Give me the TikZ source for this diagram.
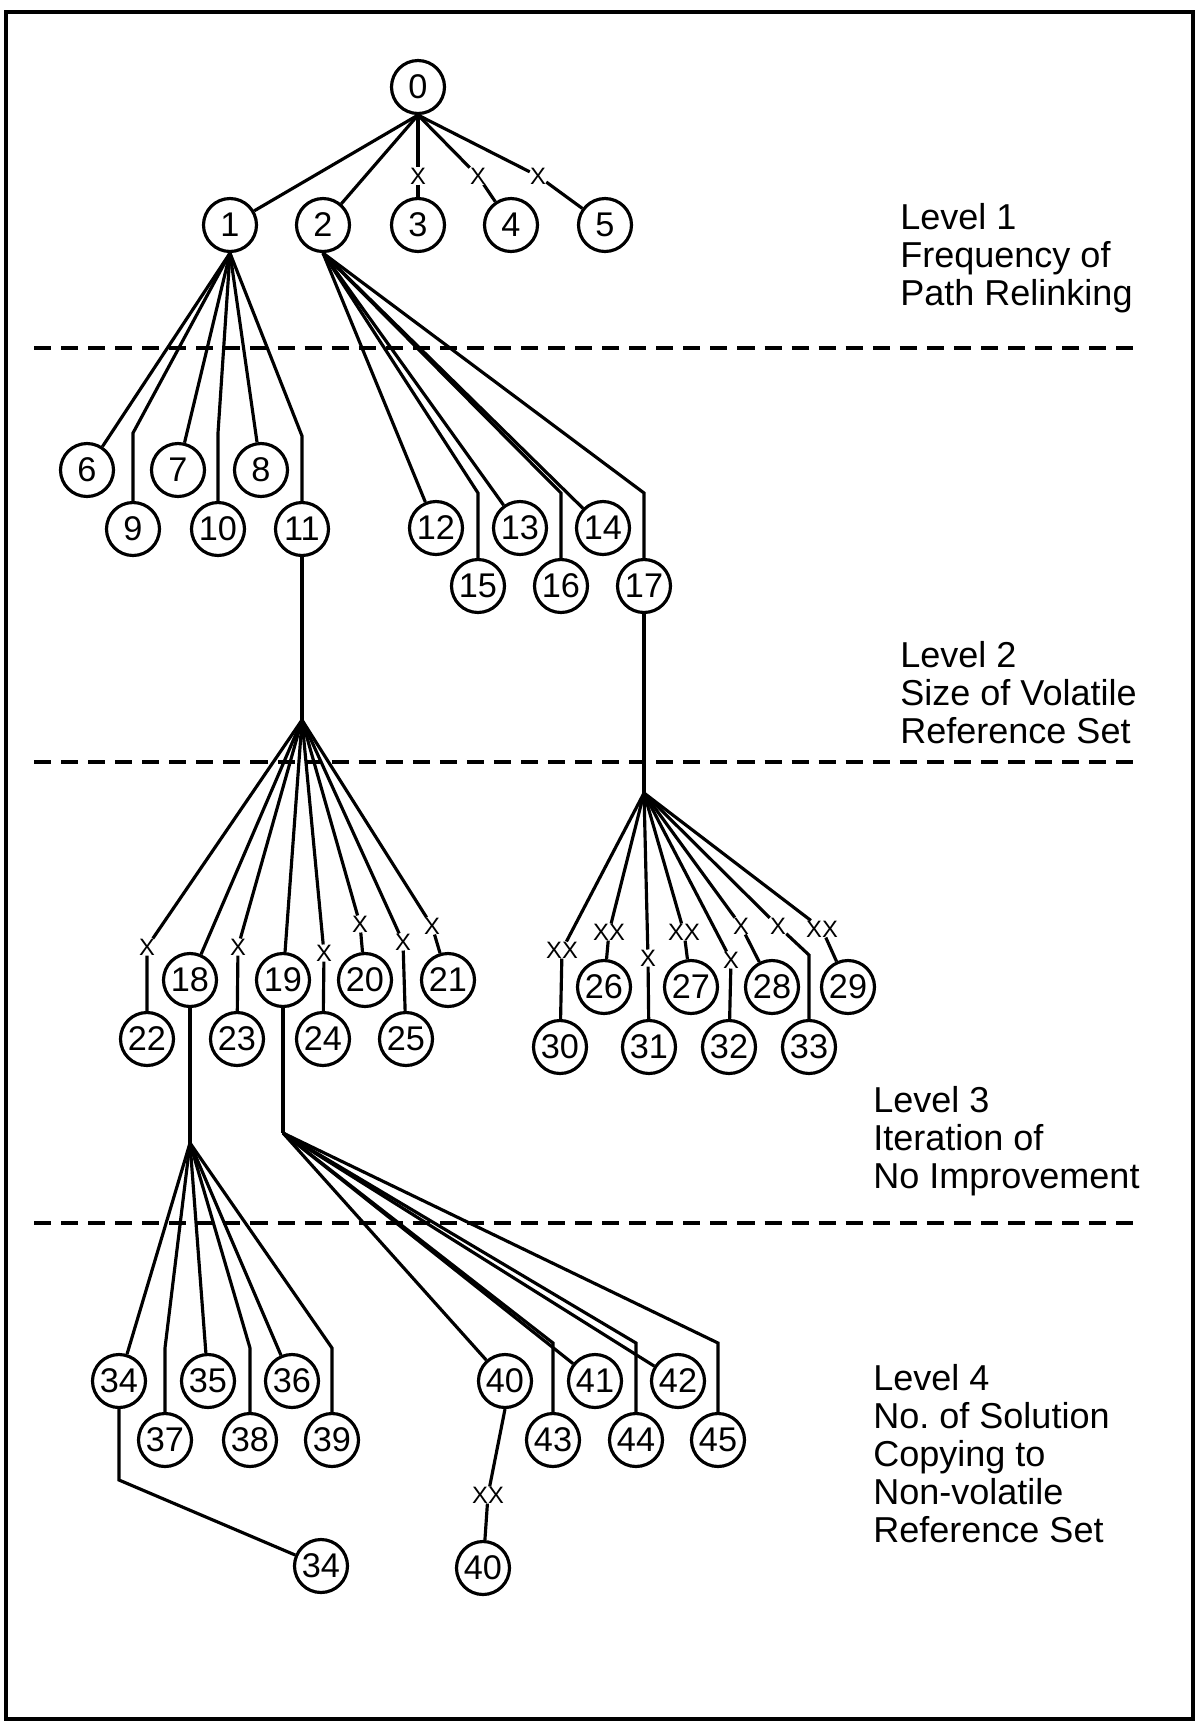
\documentclass[tikz,border=0pt]{standalone}
\usepackage{fontspec}
\setmainfont{Liberation Sans}
\frenchspacing
\begin{document}
\begin{tikzpicture}[x=0.02cm,y=-0.02cm,
  tn/.style={circle,draw,line width=1.8pt,minimum size=1.06cm,inner sep=0pt,font=\fontsize{19.5}{22}\selectfont},
  xm/.style={inner sep=0pt,font=\fontsize{13.5}{15}\selectfont},
  link/.style={line width=1.8pt},
  sep/.style={line width=2.5pt,dash pattern=on 9.7pt off 5.7pt},
  lvl/.style={anchor=north west,align=left,inner sep=0pt,font=\fontsize{20.5}{21.6}\selectfont}]
\useasboundingbox (0,0) rectangle (1198,1722);
% outer frame
\draw[line width=2.6pt] (6,12) rectangle (1193,1719);

% level separators
\draw[sep] (34,348) -- (1142,348);
\draw[sep] (34,762) -- (1142,762);
\draw[sep] (34,1223) -- (1142,1223);

% level captions
\node[lvl] (cap1) at (900,203) {Level 1\\Frequency of\\Path Relinking};
\node[lvl] (cap2) at (900,641) {Level 2\\Size of Volatile\\Reference Set};
\node[lvl] (cap3) at (873,1086) {Level 3\\Iteration of\\No Improvement};
\node[lvl] (cap4) at (873,1364) {Level 4\\No. of Solution\\Copying to\\Non-volatile\\Reference Set};

% ---- level 1 ----
\node[tn] (n0) at (418,87) {0};
\node[tn] (n1) at (230,225) {1};
\node[tn] (n2) at (323,225) {2};
\node[tn] (n3) at (418,225) {3};
\node[tn] (n4) at (511,225) {4};
\node[tn] (n5) at (605,225) {5};
\node[xm] (x3) at (418,176) {X};
\node[xm] (x4) at (478,176) {X};
\node[xm] (x5) at (538,176) {X};
\draw[link] (n0.south) -- (n1);
\draw[link] (n0.south) -- (n2);
\draw[link] (n0.south) -- (x3) -- (n3);
\draw[link] (n0.south) -- (x4) -- (n4);
\draw[link] (n0.south) -- (x5) -- (n5);

% ---- level 2 ----
\node[tn] (n6) at (87,470) {6};
\node[tn] (n7) at (178,470) {7};
\node[tn] (n8) at (261,470) {8};
\node[tn] (n9) at (133,529) {9};
\node[tn] (n10) at (218,529) {10};
\node[tn] (n11) at (302,529) {11};
\coordinate (b9) at (133,433);
\coordinate (b10) at (218,433);
\coordinate (b11) at (302,436);
\draw[link] (n1.south) -- (n6);
\draw[link] (n1.south) -- (b9) -- (n9);
\draw[link] (n1.south) -- (n7);
\draw[link] (n1.south) -- (b10) -- (n10);
\draw[link] (n1.south) -- (n8);
\draw[link] (n1.south) -- (b11) -- (n11);

\node[tn] (n12) at (436,528) {12};
\node[tn] (n13) at (520,528) {13};
\node[tn] (n14) at (603,528) {14};
\node[tn] (n15) at (478,586) {15};
\node[tn] (n16) at (561,586) {16};
\node[tn] (n17) at (644,586) {17};
\coordinate (b15) at (478,493);
\coordinate (b16) at (561,493);
\coordinate (b17) at (644,493);
\draw[link] (n2.south) -- (n12);
\draw[link] (n2.south) -- (b15) -- (n15);
\draw[link] (n2.south) -- (n13);
\draw[link] (n2.south) -- (b16) -- (n16);
\draw[link] (n2.south) -- (n14);
\draw[link] (n2.south) -- (b17) -- (n17);

% ---- level 3 ----
\coordinate (j11) at (302,720);
\coordinate (j17) at (644,793);
\draw[link] (n11.south) -- (j11);
\draw[link] (n17.south) -- (j17);

\node[tn] (n18) at (190,980) {18};
\node[tn] (n19) at (283,980) {19};
\node[tn] (n20) at (365,980) {20};
\node[tn] (n21) at (448,980) {21};
\node[tn] (n22) at (147,1039) {22};
\node[tn] (n23) at (237,1039) {23};
\node[tn] (n24) at (323,1039) {24};
\node[tn] (n25) at (406,1039) {25};
\node[xm] (x22) at (147,947) {X};
\node[xm] (x23) at (238,947) {X};
\node[xm] (x24) at (324,953) {X};
\node[xm] (x20) at (360,924) {X};
\node[xm] (x25) at (403,942) {X};
\node[xm] (x21) at (432,926) {X};
\draw[link] (j11) -- (x22) -- (n22);
\draw[link] (j11) -- (n18);
\draw[link] (j11) -- (x23) -- (n23);
\draw[link] (j11) -- (n19);
\draw[link] (j11) -- (x24) -- (n24);
\draw[link] (j11) -- (x20) -- (n20);
\draw[link] (j11) -- (x25) -- (n25);
\draw[link] (j11) -- (x21) -- (n21);

\node[tn] (n26) at (604,987) {26};
\node[tn] (n27) at (691,987) {27};
\node[tn] (n28) at (772,987) {28};
\node[tn] (n29) at (848,987) {29};
\node[tn] (n30) at (560,1047) {30};
\node[tn] (n31) at (649,1047) {31};
\node[tn] (n32) at (729,1047) {32};
\node[tn] (n33) at (809,1047) {33};
\node[xm] (x30) at (562,950) {XX};
\node[xm] (x26) at (609,932) {XX};
\node[xm] (x31) at (648,958) {X};
\node[xm] (x27) at (684,932) {XX};
\node[xm] (x32) at (731,960) {X};
\node[xm] (x28) at (741,926) {X};
\node[xm] (x33) at (778,926) {X};
\node[xm] (x29) at (822,929) {XX};
\coordinate (b33) at (809,955);
\draw[link] (j17) -- (x30) -- (n30);
\draw[link] (j17) -- (x26) -- (n26);
\draw[link] (j17) -- (x31) -- (n31);
\draw[link] (j17) -- (x27) -- (n27);
\draw[link] (j17) -- (x32) -- (n32);
\draw[link] (j17) -- (x28) -- (n28);
\draw[link] (j17) -- (x33) -- (b33) -- (n33);
\draw[link] (j17) -- (x29) -- (n29);

% ---- level 4 ----
\coordinate (j18) at (190,1143);
\coordinate (j19) at (283,1133);
\draw[link] (n18.south) -- (j18);
\draw[link] (n19.south) -- (j19);

\node[tn] (n34) at (119,1381) {34};
\node[tn] (n35) at (208,1381) {35};
\node[tn] (n36) at (292,1381) {36};
\node[tn] (n37) at (165,1440) {37};
\node[tn] (n38) at (250,1440) {38};
\node[tn] (n39) at (332,1440) {39};
\coordinate (b37) at (165,1348);
\coordinate (b38) at (250,1348);
\coordinate (b39) at (332,1348);
\draw[link] (j18) -- (n34);
\draw[link] (j18) -- (b37) -- (n37);
\draw[link] (j18) -- (n35);
\draw[link] (j18) -- (b38) -- (n38);
\draw[link] (j18) -- (n36);
\draw[link] (j18) -- (b39) -- (n39);

\node[tn] (n40) at (505,1381) {40};
\node[tn] (n41) at (595,1381) {41};
\node[tn] (n42) at (678,1381) {42};
\node[tn] (n43) at (553,1440) {43};
\node[tn] (n44) at (636,1440) {44};
\node[tn] (n45) at (718,1440) {45};
\coordinate (b43) at (553,1343);
\coordinate (b44) at (636,1343);
\coordinate (b45) at (718,1343);
\draw[link] (j19) -- (n40);
\draw[link] (j19) -- (b43) -- (n43);
\draw[link] (j19) -- (n41);
\draw[link] (j19) -- (b44) -- (n44);
\draw[link] (j19) -- (n42);
\draw[link] (j19) -- (b45) -- (n45);

% copies kept in the non-volatile set
\node[tn] (n34b) at (321,1566) {34};
\node[tn] (n40b) at (483,1568) {40};
\coordinate (b34) at (119,1480);
\node[xm] (x40) at (488,1495) {XX};
\draw[link] (n34.south) -- (b34) -- (n34b);
\draw[link] (n40.south) -- (x40) -- (n40b);
\end{tikzpicture}
\end{document}
